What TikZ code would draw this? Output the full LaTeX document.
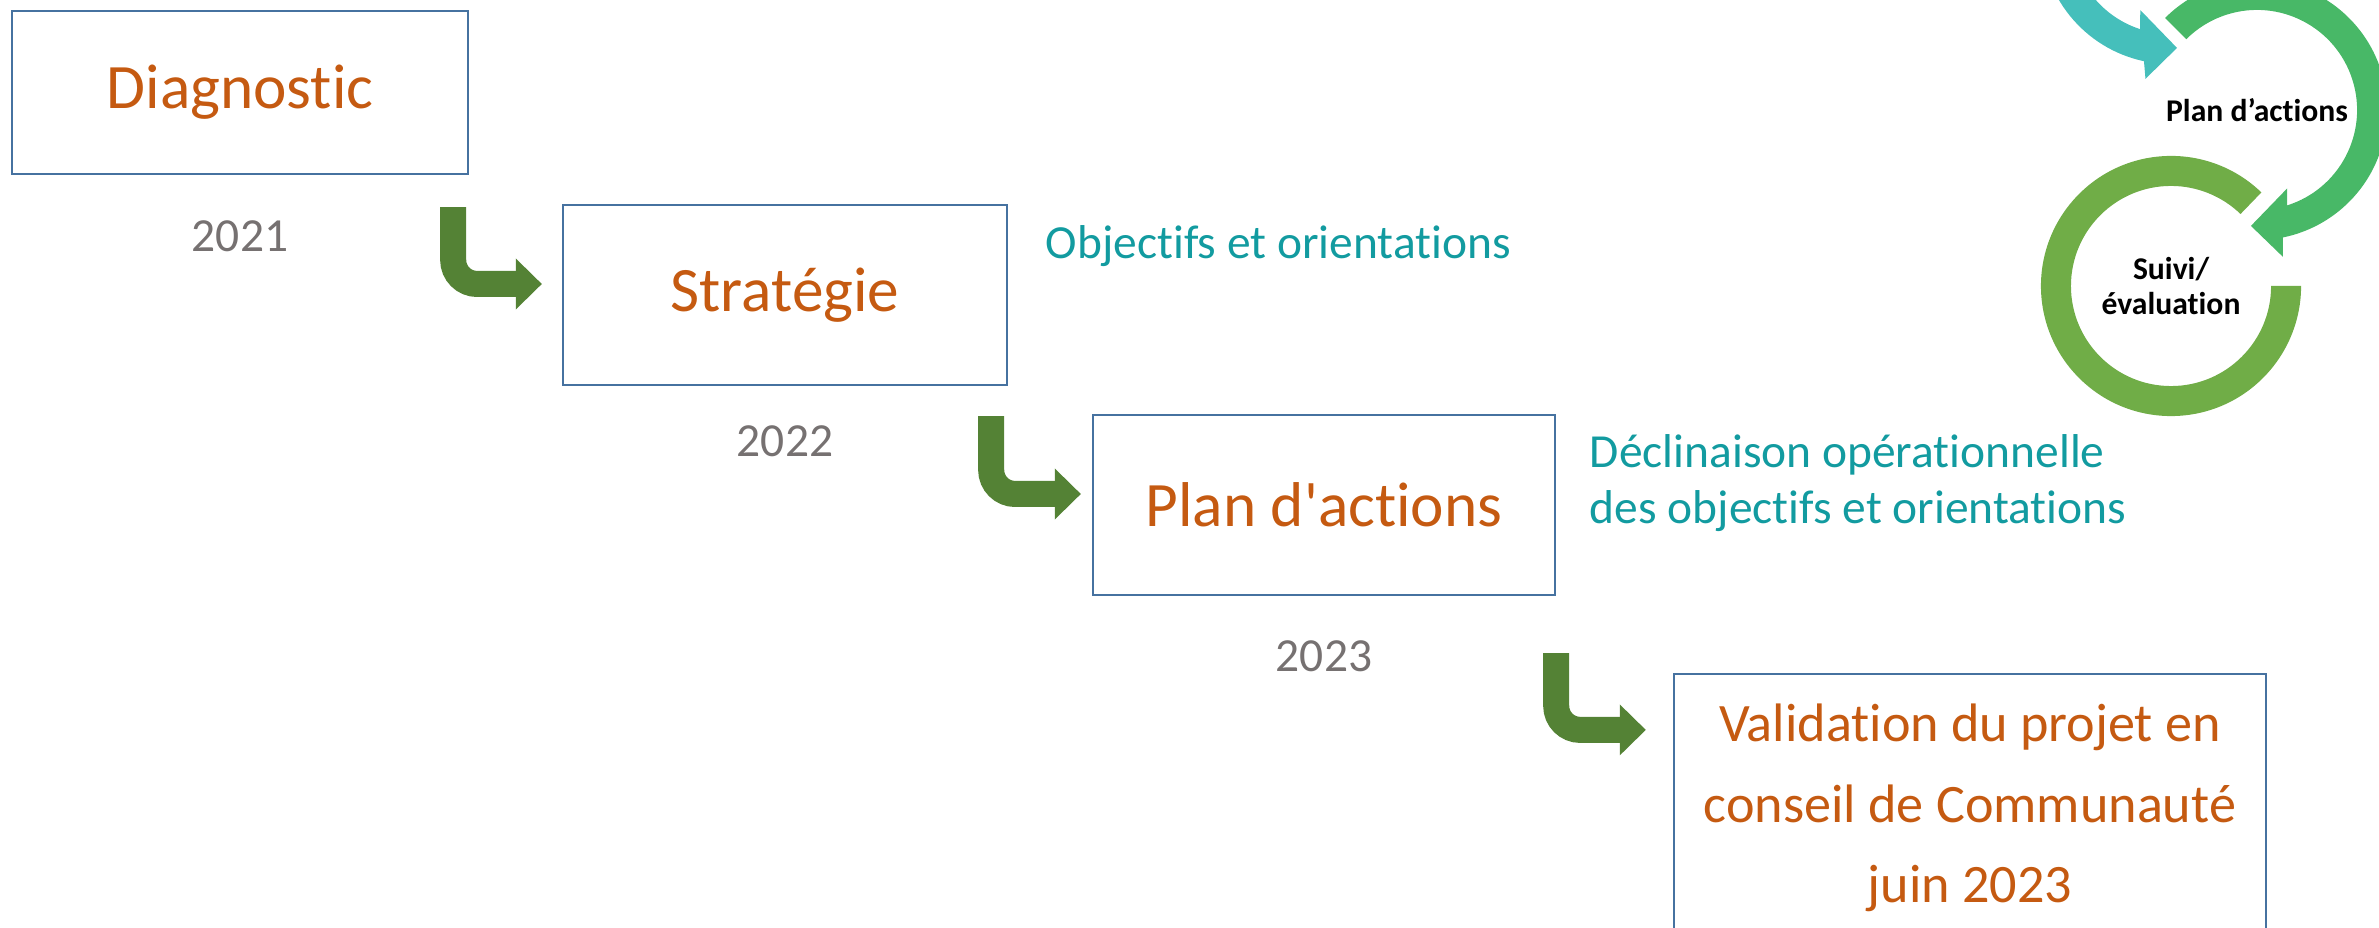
\documentclass[tikz,border=0pt]{standalone}
\usepackage{fontspec}
\setmainfont{Carlito}[Ligatures={TeXOff,NoCommon}]
\usetikzlibrary{arrows.meta,calc,positioning}

\definecolor{stageorange}{RGB}{197,90,17}
\definecolor{boxblue}{RGB}{70,114,160}
\definecolor{yeargrey}{RGB}{118,113,113}
\definecolor{noteteal}{RGB}{18,155,160}
\definecolor{arrowgreen}{RGB}{84,130,53}
\definecolor{cycteal}{RGB}{69,191,187}
\definecolor{cycgreen}{RGB}{72,184,103}
\definecolor{cyclight}{RGB}{112,173,71}

\tikzset{
    stage/.style={draw=boxblue, line width=0.6pt, text=stageorange, inner sep=0pt,
        font=\fontsize{18}{22}\selectfont},
    year/.style={text=yeargrey, inner sep=0pt, font=\fontsize{13.5}{16}\selectfont},
    note/.style={text=noteteal, inner sep=0pt, anchor=west, align=left,
        font=\fontsize{13.5}{16}\selectfont},
    bentarrow/.style={draw=arrowgreen, line width=0.26cm, rounded corners=0.24cm,
        -{Triangle[length=0.26cm, width=0.51cm, line width=0pt]}},
    cyctext/.style={inner sep=0pt, align=center, font=\bfseries\fontsize{9}{10}\selectfont}
}

\begin{document}
\begin{tikzpicture}[x=0.01cm, y=0.01cm]

    \useasboundingbox (0,0) rectangle (2379,927);
    \clip (0,0) rectangle (2379,927);

    \begin{scope} % stages
        \node[stage, minimum width=4.56cm, minimum height=1.63cm] (diag) at (240,834.5) {Diagnostic};
        \node[stage, minimum width=4.44cm, minimum height=1.80cm] (strat) at (785,632) {Stratégie};
        \node[stage, minimum width=4.62cm, minimum height=1.80cm] (plan) at (1324,422) {Plan d'actions};
        \node[stage, minimum width=5.92cm, minimum height=2.68cm, align=center,
            font=\fontsize{15.4}{22.8}\selectfont] (valid) at (1970,119)
            {Validation du projet en\\conseil de Communauté\\juin 2023};
    \end{scope}

    \begin{scope} % years and notes
        \node[year] (y21) at ([yshift=-0.61cm]diag.south) {2021};
        \node[year] (y22) at ([yshift=-0.55cm]strat.south) {2022};
        \node[year] (y23) at ([yshift=-0.60cm]plan.south) {2023};
        \node[note] (obj) at ([xshift=0.37cm, yshift=0.49cm]strat.east) {Objectifs et orientations};
        \node[note] (decl) at ([xshift=0.33cm, yshift=0.22cm]plan.east)
            {Déclinaison opérationnelle\\des objectifs et orientations};
    \end{scope}

    \begin{scope} % bent arrows
        \draw[bentarrow] ([xshift=-0.16cm, yshift=-0.32cm]diag.south east) |- ([xshift=-0.20cm, yshift=0.11cm]strat.west);
        \draw[bentarrow] ([xshift=-0.17cm, yshift=-0.30cm]strat.south east) |- ([xshift=-0.11cm, yshift=0.11cm]plan.west);
        \draw[bentarrow] ([yshift=-0.57cm]plan.south east) |- ([xshift=-0.27cm, yshift=-0.57cm]valid.north west);
    \end{scope}

    \begin{scope} % cycle
        \node[cyctext] (pa) at (2257,817) {Plan d’actions};
        \node[cyctext] (se) at (2171,641) {Suivi/\\évaluation};
        \coordinate (tc) at (2171,993);
        \fill[cycteal] ($(tc)+(180:1.3cm)$) arc[start angle=180, end angle=258, radius=1.3cm]
            -- ($(tc)+(-100:1.47cm)$) -- ($(tc)+(-87:1.14cm)$) -- ($(tc)+(-112:0.82cm)$)
            -- ($(tc)+(-108:1cm)$) arc[start angle=252, end angle=180, radius=1cm] -- cycle;
        \fill[cycgreen] ($(pa)+(135:1.3cm)$) arc[start angle=135, end angle=-78.5, radius=1.3cm]
            -- ($(pa)+(-80:1.49cm)$) -- ($(pa)+(-93:1.16cm)$) -- ($(pa)+(-69:0.84cm)$)
            -- ($(pa)+(-72.5:1cm)$) arc[start angle=-72.5, end angle=135, radius=1cm] -- cycle;
        \fill[cyclight] ($(se)+(46:1.3cm)$) arc[start angle=46, end angle=360, radius=1.3cm]
            -- ($(se)+(0:1cm)$) arc[start angle=360, end angle=46, radius=1cm] -- cycle;
    \end{scope}

\end{tikzpicture}
\end{document}
